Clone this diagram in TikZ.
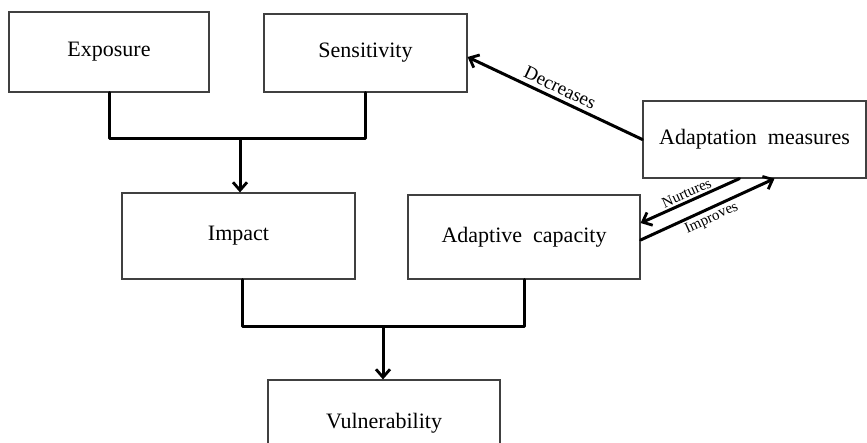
\documentclass[tikz,border=0pt]{standalone}
\usepackage{fontspec}
\setmainfont{Liberation Serif}
\usepackage{tikz}
\usetikzlibrary{arrows.meta, positioning}

\begin{document}
\begin{tikzpicture}[x=1pt, y=-1pt, >={Straight Barb[length=8pt, width=14pt, line width=2.8pt]},
    box/.style={draw=black!75, line width=1.2pt, fill=white, font=\fontsize{22}{26}\selectfont},
    link/.style={line width=3pt, line cap=round, line join=round},
    tag/.style={font=\fontsize{19}{22}\selectfont, inner sep=4pt},
    smalltag/.style={font=\fontsize{15}{18}\selectfont, inner sep=2pt}]
    \useasboundingbox (0,0) rectangle (867,443);

    % Nodes
    \node[box, minimum width=200pt, minimum height=80pt] (exp) at (109, 52) {Exposure};
    \node[box, minimum width=203pt, minimum height=78pt] (sens) at (365.5, 53) {Sensitivity};
    \node[box, minimum width=233pt, minimum height=86pt] (imp) at (238.5, 236) {Impact};
    \node[box, minimum width=232pt, minimum height=84pt] (adcap) at (524, 237) {Adaptive~~capacity};
    \node[box, minimum width=223pt, minimum height=77pt] (adm) at (754.5, 139.5) {Adaptation~~measures};
    \node[box, minimum width=232pt, minimum height=86pt] (vul) at (384, 423) {Vulnerability};

    \coordinate (j1) at (240, 139);
    \coordinate (j2) at (383, 327);

    % Directed edges
    \draw[link] (exp.south) |- (j1) -| (sens.south);
    \draw[link, ->] (j1) -- (j1 |- imp.north);
    \draw[link] ([xshift=4pt]imp.south) |- (j2) -| (adcap.south);
    \draw[link, ->] (j2) -- (j2 |- vul.north);
    \draw[link, ->] (adm.west) -- ([yshift=-4pt]sens.east) node[tag, midway, sloped, above] {Decreases};
    \draw[link, ->] ([xshift=-15pt]adm.south) -- ([yshift=14pt]adcap.east) node[smalltag, midway, sloped, above] {Nurtures};
    \draw[link, ->] ([yshift=-3pt]adcap.east) -- ([xshift=20pt]adm.south) node[smalltag, midway, sloped, below] {Improves};
\end{tikzpicture}
\end{document}
